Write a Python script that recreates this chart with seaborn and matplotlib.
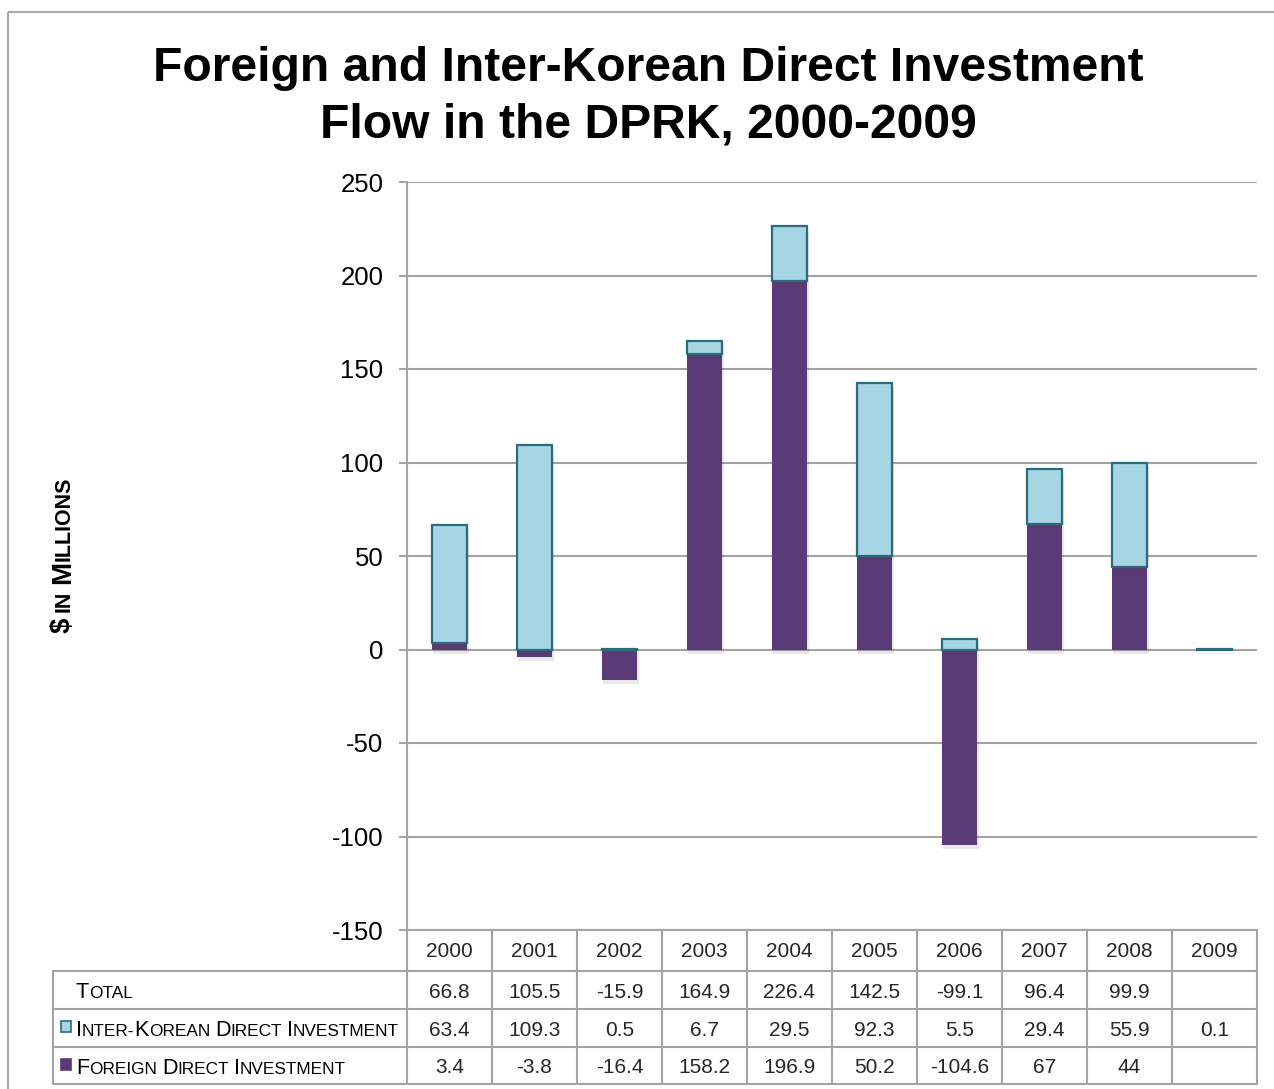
import numpy as np
import pandas as pd
import matplotlib
matplotlib.use("Agg")
import matplotlib.pyplot as plt
import matplotlib.transforms as mtransforms
import matplotlib.patheffects as pe
from matplotlib.lines import Line2D
from matplotlib.patches import Rectangle
import seaborn as sns

# ---------------- data ----------------
years = ["2000", "2001", "2002", "2003", "2004", "2005", "2006", "2007", "2008", "2009"]
inter_korean = [63.4, 109.3, 0.5, 6.7, 29.5, 92.3, 5.5, 29.4, 55.9, 0.1]
foreign = [3.4, -3.8, -16.4, 158.2, 196.9, 50.2, -104.6, 67, 44, np.nan]
total = [66.8, 105.5, -15.9, 164.9, 226.4, 142.5, -99.1, 96.4, 99.9, np.nan]
y_ticks = [-150, -100, -50, 0, 50, 100, 150, 200, 250]

title = "Foreign and Inter-Korean Direct Investment\nFlow in the DPRK, 2000-2009"

# ---------------- style ----------------
W, H = 1274, 1089
sns.set_theme(style="white")
FONT = ["Liberation Sans", "DejaVu Sans"]
plt.rcParams["font.family"] = FONT

IK_FACE = "#A6D6E3"
IK_EDGE = "#2C6B7C"
FDI_FACE = "#5A3A77"
GRID = "#A3A3A3"

fig = plt.figure(figsize=(W / 100, H / 100), dpi=100)
# pixel transform (origin top-left)
PX = mtransforms.Affine2D().scale(1 / W, -1 / H).translate(0, 1) + fig.transFigure

# plot area
x0, x1, ytop, ybot = 407, 1257, 182, 930
ax = fig.add_axes([x0 / W, 1 - ybot / H, (x1 - x0) / W, (ybot - ytop) / H])

df = pd.DataFrame({"year": years, "ik": inter_korean, "fdi": foreign, "total": total})
df["ik_bottom"] = [f if (not np.isnan(f) and f > 0) else 0 for f in df["fdi"]]

shadow = [pe.SimplePatchShadow(offset=(1, -3), alpha=0.12, shadow_rgbFace="#444444"), pe.Normal()]

fdi_df = df.dropna(subset=["fdi"])
sns.barplot(data=fdi_df, x="year", y="fdi", order=years, color=FDI_FACE, saturation=1,
            width=0.42, errorbar=None, linewidth=0, ax=ax, zorder=3)
sns.barplot(data=df, x="year", y="ik", order=years, color=IK_FACE, saturation=1,
            width=0.42, errorbar=None, edgecolor=IK_EDGE, linewidth=1.6,
            bottom=df["ik_bottom"].values, ax=ax, zorder=3)
for p in ax.patches:
    p.set_path_effects(shadow)

ax.set_xlim(-0.5, 9.5)
ax.set_ylim(-150, 250)
ax.set_yticks(y_ticks)
ax.set_yticklabels([str(v) for v in y_ticks], fontsize=18.5, color="black")
ax.set_xticks([])
ax.set_xlabel("")
ax.set_ylabel("")
ax.yaxis.grid(True, color=GRID, linewidth=1.5, zorder=0)
ax.set_axisbelow(True)
for s in ["top", "right", "bottom"]:
    ax.spines[s].set_visible(False)
ax.spines["left"].set_color(GRID)
ax.spines["left"].set_linewidth(1.5)
ax.tick_params(axis="y", left=True, length=6, width=1.5, color=GRID, pad=11)

# ---------------- title ----------------
fig.text(648, 97, title, transform=PX, ha="center", va="center", fontsize=34.6,
         fontweight="bold", linespacing=1.33, color="black")

# ---------------- helpers ----------------
renderer = fig.canvas.get_renderer()


def measure(s, size, weight):
    t = fig.text(0, 0, s, fontsize=size, fontweight=weight)
    w = t.get_window_extent(renderer).width
    t.remove()
    return w


def advance(s, size, weight):
    return measure("|" + s + "|", size, weight) - measure("||", size, weight)


def small_caps(pieces, x, y, big, small, weight="normal", vertical=False):
    pos = 0.0
    for s, is_big in pieces:
        size = big if is_big else small
        adv = advance(s, size, weight)
        if s.strip():
            if vertical:
                fig.text(x, y - pos, s, transform=PX, fontsize=size, fontweight=weight,
                         rotation=90, rotation_mode="anchor", ha="left", va="baseline",
                         color="black")
            else:
                fig.text(x + pos, y, s, transform=PX, fontsize=size, fontweight=weight,
                         ha="left", va="baseline", color="black")
        pos += adv


# ---------------- y label (small caps) ----------------
small_caps([("$", True), (" ", False), ("IN", False), (" ", False), ("M", True), ("ILLIONS", False)],
           70, 633, 20, 15.5, weight="bold", vertical=True)

# ---------------- data table ----------------
col_edges = [x0 + i * (x1 - x0) / 10 for i in range(11)]
row_lines = [930, 971, 1009, 1047, 1084]
left_edge = 53


def hline(xa, xb, y):
    fig.add_artist(Line2D([xa, xb], [y, y], transform=PX, color=GRID, linewidth=1.5))


def vline(x, ya, yb):
    fig.add_artist(Line2D([x, x], [ya, yb], transform=PX, color=GRID, linewidth=1.5))


hline(x0, x1, row_lines[0])
for y in row_lines[1:]:
    hline(left_edge, x1, y)
for x in col_edges:
    vline(x, row_lines[0], row_lines[-1])
vline(left_edge, row_lines[1], row_lines[-1])

centers = [(col_edges[i] + col_edges[i + 1]) / 2 for i in range(10)]
row_c = [(row_lines[i] + row_lines[i + 1]) / 2 for i in range(4)]


def fmt(v):
    if v is None or (isinstance(v, float) and np.isnan(v)):
        return ""
    return f"{v:g}"


for i, cx in enumerate(centers):
    fig.text(cx, row_c[0] + 1, years[i], transform=PX, ha="center", va="center", fontsize=15)
    fig.text(cx, row_c[1] + 2, fmt(total[i]), transform=PX, ha="center", va="center", fontsize=15)
    fig.text(cx, row_c[2] + 2, fmt(inter_korean[i]), transform=PX, ha="center", va="center", fontsize=15)
    fig.text(cx, row_c[3] + 2, fmt(foreign[i]), transform=PX, ha="center", va="center", fontsize=15)

# row labels
BIG, SMALL = 15.6, 12.4
small_caps([("T", True), ("OTAL", False)], 76, row_c[1] + 8, BIG, SMALL)
small_caps([("I", True), ("NTER-", False), ("K", True), ("OREAN", False), (" ", False),
            ("D", True), ("IRECT", False), (" ", False), ("I", True), ("NVESTMENT", False)],
           76, row_c[2] + 8, BIG, SMALL)
small_caps([("F", True), ("OREIGN", False), (" ", False), ("D", True), ("IRECT", False),
            (" ", False), ("I", True), ("NVESTMENT", False)],
           76, row_c[3] + 8, BIG, SMALL)

# legend keys in table
fig.add_artist(Rectangle((61, row_c[2] - 7), 10, 11, transform=PX, facecolor=IK_FACE,
                         edgecolor=IK_EDGE, linewidth=1.2))
fig.add_artist(Rectangle((61, row_c[3] - 7), 10, 11, transform=PX, facecolor=FDI_FACE,
                         edgecolor=FDI_FACE, linewidth=1.2))

# outer frame
fig.add_artist(Rectangle((8, 12), 1290, 1100, transform=PX, facecolor="none",
                         edgecolor="#AAAAAA", linewidth=1.6))

fig.savefig("out.png", dpi=100)
